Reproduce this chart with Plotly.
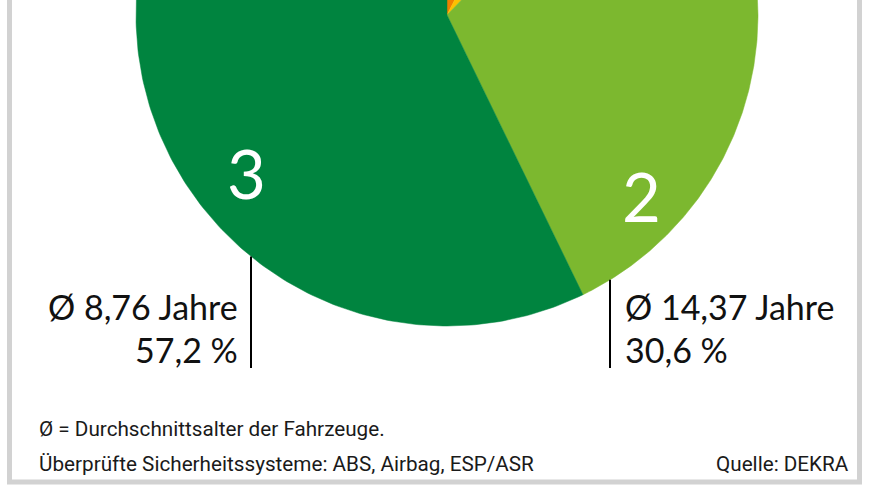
import numpy as np
import plotly.graph_objects as go

# Anteil der Fahrzeuge nach Anzahl funktionierender Sicherheitssysteme
categories = ["0", "1", "2", "3"]
shares = [7.5, 4.7, 30.6, 57.2]          # %
avg_age = [None, None, 14.37, 8.76]      # Jahre
colors = ["#ee7f00", "#fcc000", "#7cb82f", "#00843f"]

# Geometrie (Pixel, y nach unten) - Kreis oben angeschnitten
cx, cy, R = 447, 15, 311

fig = go.Figure()

total = sum(shares)
start = 0.0
for cat, val, col in zip(categories, shares, colors):
    end = start + val / total * 360
    th = np.radians(np.linspace(start, end, 240))
    x = np.concatenate([[cx], cx + R * np.sin(th), [cx]])
    y = np.concatenate([[cy], cy - R * np.cos(th), [cy]])
    fig.add_trace(go.Scatter(x=x, y=y, mode="lines", fill="toself",
                             fillcolor=col, line=dict(color=col, width=0.5),
                             name=cat, hoverinfo="name"))
    start = end

# Beschriftung in den Segmenten (Winkel im Uhrzeigersinn ab 12 Uhr, Radiusanteil)
label_pos = {"3": (231.7, 0.820), "2": (133.0, 0.853)}
for cat, (ang, rf) in label_pos.items():
    a = np.radians(ang)
    fig.add_annotation(x=cx + rf * R * np.sin(a), y=cy - rf * R * np.cos(a),
                       text=cat, showarrow=False, xanchor="center", yanchor="middle",
                       font=dict(family="Lato, Open Sans, sans-serif", size=67, color="white"))

def fmt(v, d):
    return f"{v:.{d}f}".replace(".", ",")

main_font = dict(family="Lato, Open Sans, sans-serif", size=34, color="#111111")

# Hinweislinien + Werte
callouts = {"3": (251, 240, "right"), "2": (610, 623, "left")}
for cat, (lx, tx, anchor) in callouts.items():
    i = categories.index(cat)
    ytop = cy + np.sqrt(R ** 2 - (lx - cx) ** 2)
    fig.add_shape(type="line", x0=lx, x1=lx, y0=ytop, y1=368,
                  line=dict(color="black", width=2))
    fig.add_annotation(x=tx, y=306, text=f"Ø {fmt(avg_age[i], 2)} Jahre",
                       showarrow=False, xanchor=anchor, yanchor="middle", font=main_font)
    fig.add_annotation(x=tx, y=349, text=f"{fmt(shares[i], 1)} %",
                       showarrow=False, xanchor=anchor, yanchor="middle", font=main_font)

foot_font = dict(family="Roboto, Liberation Sans, sans-serif", size=20.7, color="#1a1a1a")
fig.add_annotation(x=37, y=429, text="Ø = Durchschnittsalter der Fahrzeuge.",
                   showarrow=False, xanchor="left", yanchor="middle", font=foot_font)
fig.add_annotation(x=37, y=464, text="Überprüfte Sicherheitssysteme: ABS, Airbag, ESP/ASR",
                   showarrow=False, xanchor="left", yanchor="middle", font=foot_font)
fig.add_annotation(x=851, y=464, text="Quelle: DEKRA",
                   showarrow=False, xanchor="right", yanchor="middle", font=foot_font)

# grauer Rahmen
fig.add_shape(type="rect", x0=9.5, x1=859.5, y0=-20, y1=482,
              line=dict(color="#d2d2d2", width=5), layer="below")

fig.update_layout(
    width=870, height=490,
    margin=dict(l=0, r=0, t=0, b=0),
    paper_bgcolor="white", plot_bgcolor="white",
    showlegend=False,
    xaxis=dict(range=[0, 870], visible=False, fixedrange=True),
    yaxis=dict(range=[490, 0], visible=False, fixedrange=True),
)

# Seitenrand des Browsers entfernen, damit die Grafik bei (0,0) beginnt
fig.write_html("out.html", config={"displayModeBar": False},
               post_script="document.body.style.margin='0';")
